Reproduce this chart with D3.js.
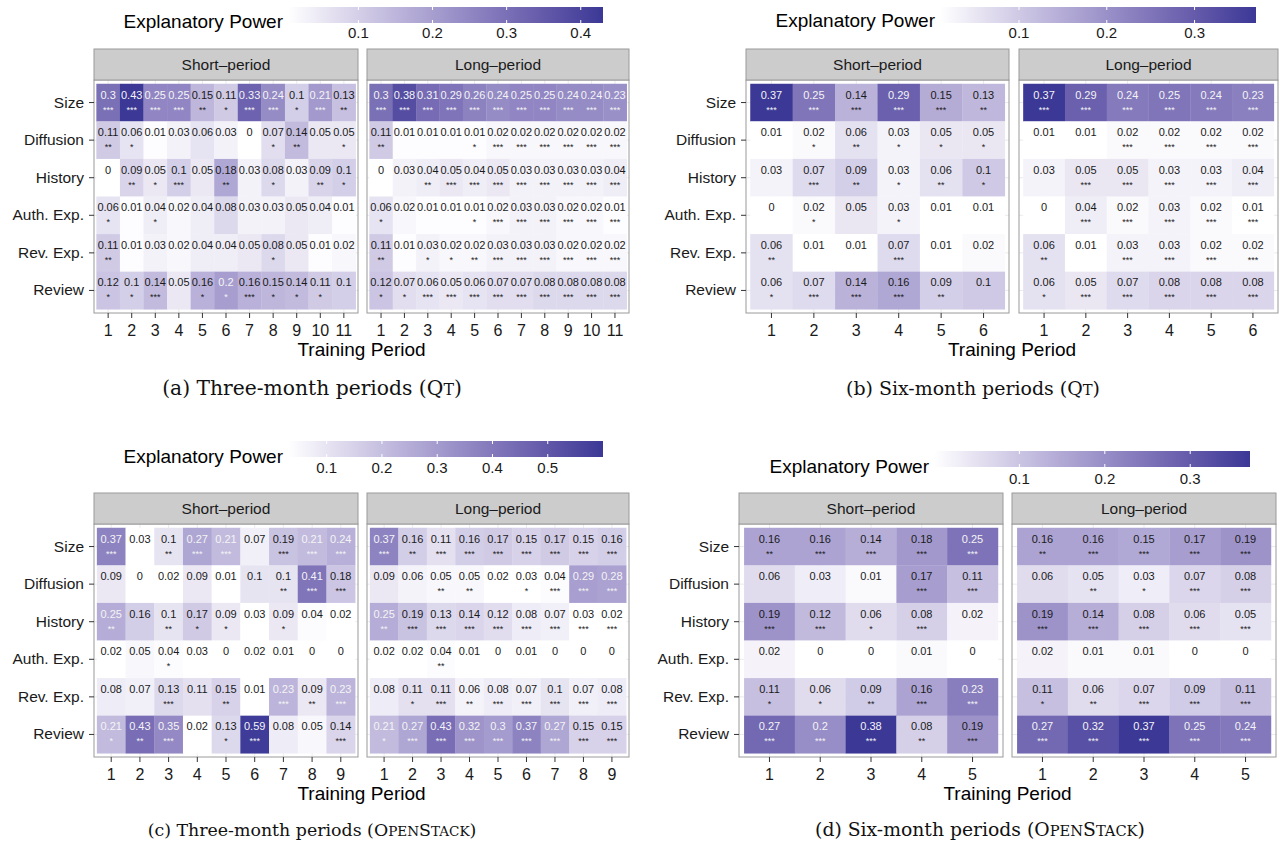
<!DOCTYPE html>
<html>
<head>
<meta charset="utf-8">
<script src="https://cdn.jsdelivr.net/npm/d3@7"></script>
<style>
  body { margin: 0; background: #fff; }
</style>
</head>
<body>
<script>
// ---- data ----
const features = ["Size", "Diffusion", "History", "Auth. Exp.", "Rev. Exp.", "Review"];
const facets = ["Short\u2013period", "Long\u2013period"];

// (a) three-month periods, Qt
const aShortValues = [
  [0.3, 0.43, 0.25, 0.25, 0.15, 0.11, 0.33, 0.24, 0.1, 0.21, 0.13],
  [0.11, 0.06, 0.01, 0.03, 0.06, 0.03, 0, 0.07, 0.14, 0.05, 0.05],
  [0, 0.09, 0.05, 0.1, 0.05, 0.18, 0.03, 0.08, 0.03, 0.09, 0.1],
  [0.06, 0.01, 0.04, 0.02, 0.04, 0.08, 0.03, 0.03, 0.05, 0.04, 0.01],
  [0.11, 0.01, 0.03, 0.02, 0.04, 0.04, 0.05, 0.08, 0.05, 0.01, 0.02],
  [0.12, 0.1, 0.14, 0.05, 0.16, 0.2, 0.16, 0.15, 0.14, 0.11, 0.1]
];
const aShortStars = [
  [3, 3, 3, 3, 2, 1, 3, 3, 1, 3, 2],
  [2, 1, 0, 0, 0, 0, 0, 1, 2, 0, 1],
  [0, 2, 1, 3, 0, 2, 0, 1, 0, 2, 1],
  [1, 0, 1, 0, 0, 0, 0, 0, 0, 0, 0],
  [2, 0, 0, 0, 0, 0, 0, 1, 0, 0, 0],
  [1, 1, 3, 0, 1, 1, 3, 1, 1, 1, 0]
];
const aLongValues = [
  [0.3, 0.38, 0.31, 0.29, 0.26, 0.24, 0.25, 0.25, 0.24, 0.24, 0.23],
  [0.11, 0.01, 0.01, 0.01, 0.01, 0.02, 0.02, 0.02, 0.02, 0.02, 0.02],
  [0, 0.03, 0.04, 0.05, 0.04, 0.05, 0.03, 0.03, 0.03, 0.03, 0.04],
  [0.06, 0.02, 0.01, 0.01, 0.01, 0.02, 0.03, 0.03, 0.02, 0.02, 0.01],
  [0.11, 0.01, 0.03, 0.02, 0.02, 0.03, 0.03, 0.03, 0.02, 0.02, 0.02],
  [0.12, 0.07, 0.06, 0.05, 0.06, 0.07, 0.07, 0.08, 0.08, 0.08, 0.08]
];
const aLongStars = [
  [3, 3, 3, 3, 3, 3, 3, 3, 3, 3, 3],
  [2, 0, 0, 0, 1, 3, 3, 3, 3, 3, 3],
  [0, 0, 2, 3, 3, 3, 3, 3, 3, 3, 3],
  [1, 0, 0, 0, 1, 3, 3, 3, 3, 3, 3],
  [2, 0, 1, 1, 2, 3, 3, 3, 3, 3, 3],
  [1, 1, 3, 3, 3, 3, 3, 3, 3, 3, 3]
];

// (b) six-month periods, Qt
const bShortValues = [
  [0.37, 0.25, 0.14, 0.29, 0.15, 0.13],
  [0.01, 0.02, 0.06, 0.03, 0.05, 0.05],
  [0.03, 0.07, 0.09, 0.03, 0.06, 0.1],
  [0, 0.02, 0.05, 0.03, 0.01, 0.01],
  [0.06, 0.01, 0.01, 0.07, 0.01, 0.02],
  [0.06, 0.07, 0.14, 0.16, 0.09, 0.1]
];
const bShortStars = [
  [3, 3, 3, 3, 3, 2],
  [0, 1, 2, 1, 1, 1],
  [0, 3, 2, 1, 2, 1],
  [0, 1, 0, 1, 0, 0],
  [2, 0, 0, 3, 0, 0],
  [1, 3, 3, 3, 2, 0]
];
const bLongValues = [
  [0.37, 0.29, 0.24, 0.25, 0.24, 0.23],
  [0.01, 0.01, 0.02, 0.02, 0.02, 0.02],
  [0.03, 0.05, 0.05, 0.03, 0.03, 0.04],
  [0, 0.04, 0.02, 0.03, 0.02, 0.01],
  [0.06, 0.01, 0.03, 0.03, 0.02, 0.02],
  [0.06, 0.05, 0.07, 0.08, 0.08, 0.08]
];
const bLongStars = [
  [3, 3, 3, 3, 3, 3],
  [0, 0, 3, 3, 3, 3],
  [0, 3, 3, 3, 3, 3],
  [0, 3, 3, 3, 3, 3],
  [2, 0, 3, 3, 3, 3],
  [1, 3, 3, 3, 3, 3]
];

// (c) three-month periods, OpenStack
const cShortValues = [
  [0.37, 0.03, 0.1, 0.27, 0.21, 0.07, 0.19, 0.21, 0.24],
  [0.09, 0, 0.02, 0.09, 0.01, 0.1, 0.1, 0.41, 0.18],
  [0.25, 0.16, 0.1, 0.17, 0.09, 0.03, 0.09, 0.04, 0.02],
  [0.02, 0.05, 0.04, 0.03, 0, 0.02, 0.01, 0, 0],
  [0.08, 0.07, 0.13, 0.11, 0.15, 0.01, 0.23, 0.09, 0.23],
  [0.21, 0.43, 0.35, 0.02, 0.13, 0.59, 0.08, 0.05, 0.14]
];
const cShortStars = [
  [3, 0, 2, 3, 3, 0, 3, 3, 3],
  [0, 0, 0, 0, 0, 0, 2, 3, 3],
  [2, 0, 2, 1, 1, 0, 1, 0, 0],
  [0, 0, 1, 0, 0, 0, 0, 0, 0],
  [0, 0, 3, 0, 2, 0, 3, 2, 3],
  [1, 2, 3, 0, 1, 3, 0, 0, 3]
];
const cLongValues = [
  [0.37, 0.16, 0.11, 0.16, 0.17, 0.15, 0.17, 0.15, 0.16],
  [0.09, 0.06, 0.05, 0.05, 0.02, 0.03, 0.04, 0.29, 0.28],
  [0.25, 0.19, 0.13, 0.14, 0.12, 0.08, 0.07, 0.03, 0.02],
  [0.02, 0.02, 0.04, 0.01, 0, 0.01, 0, 0, 0],
  [0.08, 0.11, 0.11, 0.06, 0.08, 0.07, 0.1, 0.07, 0.08],
  [0.21, 0.27, 0.43, 0.32, 0.3, 0.37, 0.27, 0.15, 0.15]
];
const cLongStars = [
  [3, 2, 3, 3, 3, 3, 3, 3, 3],
  [0, 0, 2, 2, 0, 1, 3, 3, 3],
  [2, 3, 3, 3, 3, 3, 3, 3, 3],
  [0, 0, 2, 0, 0, 0, 0, 0, 0],
  [0, 1, 3, 2, 3, 3, 3, 3, 3],
  [1, 3, 3, 3, 3, 3, 3, 3, 3]
];

// (d) six-month periods, OpenStack
const dShortValues = [
  [0.16, 0.16, 0.14, 0.18, 0.25],
  [0.06, 0.03, 0.01, 0.17, 0.11],
  [0.19, 0.12, 0.06, 0.08, 0.02],
  [0.02, 0, 0, 0.01, 0],
  [0.11, 0.06, 0.09, 0.16, 0.23],
  [0.27, 0.2, 0.38, 0.08, 0.19]
];
const dShortStars = [
  [2, 3, 3, 3, 3],
  [0, 0, 0, 3, 3],
  [3, 3, 1, 3, 0],
  [0, 0, 0, 0, 0],
  [1, 1, 2, 3, 3],
  [3, 3, 3, 2, 3]
];
const dLongValues = [
  [0.16, 0.16, 0.15, 0.17, 0.19],
  [0.06, 0.05, 0.03, 0.07, 0.08],
  [0.19, 0.14, 0.08, 0.06, 0.05],
  [0.02, 0.01, 0.01, 0, 0],
  [0.11, 0.06, 0.07, 0.09, 0.11],
  [0.27, 0.32, 0.37, 0.25, 0.24]
];
const dLongStars = [
  [2, 3, 3, 3, 3],
  [0, 2, 1, 3, 3],
  [3, 3, 3, 3, 3],
  [0, 0, 0, 0, 0],
  [1, 2, 3, 3, 3],
  [3, 3, 3, 3, 3]
];

// colour scale ranges and legend ticks per sub-figure
const aDomain = [0.005, 0.43], aTicks = [0.1, 0.2, 0.3, 0.4];
const bDomain = [0.01, 0.37], bTicks = [0.1, 0.2, 0.3];
const cDomain = [0.03, 0.6], cTicks = [0.1, 0.2, 0.3, 0.4, 0.5];
const dDomain = [0, 0.37], dTicks = [0.1, 0.2, 0.3];

const aCaption = [["(a) Three-month periods (Q", 1], ["T", 0.78], [")", 1]];
const bCaption = [["(b) Six-month periods (Q", 1], ["T", 0.78], [")", 1]];
const cCaption = [["(c) Three-month periods (O", 1], ["PEN", 0.78], ["S", 1], ["TACK", 0.78], [")", 1]];
const dCaption = [["(d) Six-month periods (O", 1], ["PEN", 0.78], ["S", 1], ["TACK", 0.78], [")", 1]];

// ---- drawing ----
const W = 1282, H = 846;
const sans = "'Liberation Sans', Arial, Helvetica, sans-serif";
const serif = "'DejaVu Serif', 'Liberation Serif', serif";
const lowColor = "#ffffff", highColor = "#3b3896";

const svg = d3.select("body").append("svg").attr("width", W).attr("height", H);
const defs = svg.append("defs");

function drawPanel(p) {
  const color = d3.scaleLinear().domain(p.domain).range([lowColor, highColor])
    .interpolate(d3.interpolateLab).clamp(true);
  const g = svg.append("g");

  // legend
  const lx = d3.scaleLinear().domain(p.domain).range(p.bar);
  const gid = "grad-" + p.id;
  const grad = defs.append("linearGradient").attr("id", gid);
  d3.range(0, 1.0001, 0.05).forEach(t => {
    grad.append("stop").attr("offset", t)
      .attr("stop-color", color(p.domain[0] + t * (p.domain[1] - p.domain[0])));
  });
  g.append("rect")
    .attr("x", p.bar[0]).attr("y", p.barY[0])
    .attr("width", p.bar[1] - p.bar[0]).attr("height", p.barY[1] - p.barY[0])
    .attr("fill", `url(#${gid})`);
  p.ticks.forEach(t => {
    const x = lx(t);
    g.append("line").attr("x1", x).attr("x2", x).attr("y1", p.barY[0]).attr("y2", p.barY[0] + 3)
      .attr("stroke", "#fff").attr("stroke-width", 1);
    g.append("line").attr("x1", x).attr("x2", x).attr("y1", p.barY[1] - 3).attr("y2", p.barY[1])
      .attr("stroke", "#fff").attr("stroke-width", 1);
    g.append("text").attr("x", x).attr("y", p.tickLabelY)
      .attr("text-anchor", "middle").attr("font-family", sans).attr("font-size", 15)
      .attr("fill", "#1a1a1a").text(t);
  });
  g.append("text")
    .attr("x", p.bar[0] - 5).attr("y", p.titleY)
    .attr("text-anchor", "end").attr("font-family", sans).attr("font-size", 19)
    .attr("fill", "#000").text("Explanatory Power");

  facets.forEach((name, fi) => {
    const vals = p.values[fi], stars = p.stars[fi];
    const n = vals[0].length;
    const [x0, x1] = p.facetX[fi];
    const top = p.stripY[1], bottom = p.bottom;
    const x = d3.scaleBand().domain(d3.range(1, n + 1)).range([x0, x1])
      .paddingInner(0).paddingOuter(0.1);
    const y = d3.scaleBand().domain(features).range([top, bottom])
      .paddingInner(0).paddingOuter(0.1);

    const fg = g.append("g");

    // grid
    fg.selectAll("line.vg").data(x.domain()).enter().append("line")
      .attr("x1", d => x(d) + x.bandwidth() / 2).attr("x2", d => x(d) + x.bandwidth() / 2)
      .attr("y1", top).attr("y2", bottom)
      .attr("stroke", "#ebebeb").attr("stroke-width", 1);
    fg.selectAll("line.hg").data(features).enter().append("line")
      .attr("y1", d => y(d) + y.bandwidth() / 2).attr("y2", d => y(d) + y.bandwidth() / 2)
      .attr("x1", x0).attr("x2", x1)
      .attr("stroke", "#ebebeb").attr("stroke-width", 1);

    const cells = features.flatMap((f, r) => vals[r].map((v, c) => ({
      f: f, period: c + 1, v: v, s: stars[r][c]
    })));

    fg.selectAll("rect.cell").data(cells).enter().append("rect")
      .attr("x", d => x(d.period)).attr("y", d => y(d.f))
      .attr("width", x.bandwidth() + 0.3).attr("height", y.bandwidth() + 0.3)
      .attr("fill", d => color(d.v));

    const txt = d => d.v >= 0.2 ? "#f4f4f4" : "#1a1a1a";
    fg.selectAll("text.val").data(cells).enter().append("text")
      .attr("x", d => x(d.period) + x.bandwidth() / 2)
      .attr("y", d => y(d.f) + y.bandwidth() / 2 - 4)
      .attr("text-anchor", "middle").attr("font-family", sans).attr("font-size", p.valSize)
      .attr("fill", txt).text(d => String(d.v));
    fg.selectAll("text.star").data(cells.filter(d => d.s > 0)).enter().append("text")
      .attr("x", d => x(d.period) + x.bandwidth() / 2)
      .attr("y", d => y(d.f) + y.bandwidth() / 2 + 10)
      .attr("text-anchor", "middle").attr("font-family", sans).attr("font-size", 9)
      .attr("fill", txt).text(d => "*".repeat(d.s));

    // panel border
    fg.append("rect").attr("x", x0).attr("y", top).attr("width", x1 - x0).attr("height", bottom - top)
      .attr("fill", "none").attr("stroke", "#9a9a9a").attr("stroke-width", 1);

    // strip
    fg.append("rect").attr("x", x0).attr("y", p.stripY[0])
      .attr("width", x1 - x0).attr("height", p.stripY[1] - p.stripY[0])
      .attr("fill", "#cccccc").attr("stroke", "#9a9a9a").attr("stroke-width", 1);
    fg.append("text").attr("x", (x0 + x1) / 2).attr("y", (p.stripY[0] + p.stripY[1]) / 2 + 5.5)
      .attr("text-anchor", "middle").attr("font-family", sans).attr("font-size", 15.5)
      .attr("fill", "#1a1a1a").text(name);

    // x axis
    const xa = fg.append("g").attr("transform", `translate(0,${bottom})`)
      .call(d3.axisBottom(x).tickSize(5).tickPadding(6.5));
    xa.select(".domain").remove();
    xa.selectAll(".tick line").attr("stroke", "#333");
    xa.selectAll(".tick text").attr("font-family", sans).attr("font-size", 16).attr("fill", "#1a1a1a");

    // y axis on the left facet only
    if (fi === 0) {
      const ya = fg.append("g").attr("transform", `translate(${x0},0)`)
        .call(d3.axisLeft(y).tickSize(5).tickPadding(5));
      ya.select(".domain").remove();
      ya.selectAll(".tick line").attr("stroke", "#333");
      ya.selectAll(".tick text").attr("font-family", sans).attr("font-size", 15.5).attr("fill", "#1a1a1a");
    }
  });

  // axis title
  g.append("text")
    .attr("x", (p.facetX[0][0] + p.facetX[1][1]) / 2).attr("y", p.bottom + 43)
    .attr("text-anchor", "middle").attr("font-family", sans).attr("font-size", 19)
    .attr("fill", "#000").text("Training Period");

  // caption
  const cap = g.append("text").attr("x", p.captionX).attr("y", p.captionY)
    .attr("text-anchor", "middle").attr("font-family", serif).attr("fill", "#111");
  const base = 16;
  const spans = p.caption.map(([s, k]) => cap.append("tspan").attr("font-size", base * k).text(s));
  const w = cap.node().getComputedTextLength();
  const scale = p.captionW / w;
  spans.forEach((sp, i) => sp.attr("font-size", base * p.caption[i][1] * scale));
}

const panels = [
  { id: "a", values: [aShortValues, aLongValues], stars: [aShortStars, aLongStars],
    domain: aDomain, ticks: aTicks, caption: aCaption,
    bar: [288, 603], barY: [7, 23], titleY: 28, tickLabelY: 38,
    facetX: [[94, 358], [367, 629]], stripY: [49, 80], bottom: 313, valSize: 11,
    captionX: 312, captionY: 395, captionW: 300 },
  { id: "b", values: [bShortValues, bLongValues], stars: [bShortStars, bLongStars],
    domain: bDomain, ticks: bTicks, caption: bCaption,
    bar: [940, 1256], barY: [7, 23], titleY: 27, tickLabelY: 38,
    facetX: [[746, 1009], [1019, 1278]], stripY: [49, 80], bottom: 313, valSize: 11,
    captionX: 973, captionY: 395, captionW: 254 },
  { id: "c", values: [cShortValues, cLongValues], stars: [cShortStars, cLongStars],
    domain: cDomain, ticks: cTicks, caption: cCaption,
    bar: [288, 603], barY: [441, 457], titleY: 463, tickLabelY: 473,
    facetX: [[94, 358], [367, 629]], stripY: [493, 524], bottom: 757, valSize: 11,
    captionX: 312, captionY: 836, captionW: 329 },
  { id: "d", values: [dShortValues, dLongValues], stars: [dShortStars, dLongStars],
    domain: dDomain, ticks: dTicks, caption: dCaption,
    bar: [934, 1250], barY: [451, 467], titleY: 473, tickLabelY: 484,
    facetX: [[739, 1003], [1012, 1276]], stripY: [493, 524], bottom: 757, valSize: 11,
    captionX: 980, captionY: 836, captionW: 330 }
];

panels.forEach(drawPanel);
</script>
</body>
</html>
